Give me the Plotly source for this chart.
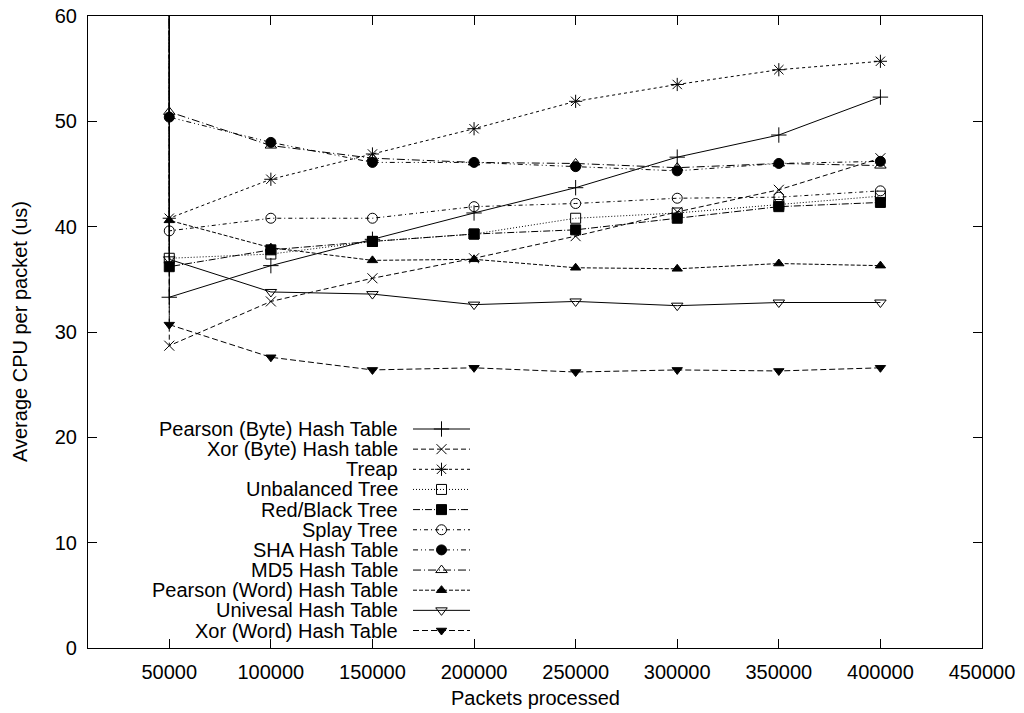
import plotly.graph_objects as go

# ---------------- data ----------------
packets = [50000, 100000, 150000, 200000, 250000, 300000, 350000, 400000]

series_names = [
    "Pearson (Byte) Hash Table",
    "Xor (Byte) Hash table",
    "Treap",
    "Unbalanced Tree",
    "Red/Black Tree",
    "Splay Tree",
    "SHA Hash Table",
    "MD5 Hash Table",
    "Pearson (Word) Hash Table",
    "Univesal Hash Table",
    "Xor (Word) Hash Table",
]

pearson_byte = [33.3, 36.3, 38.8, 41.3, 43.7, 46.6, 48.7, 52.3]
xor_byte = [28.7, 32.9, 35.1, 37.0, 39.1, 41.4, 43.5, 46.5]
treap = [40.8, 44.5, 46.9, 49.3, 51.9, 53.5, 54.9, 55.7]
unbalanced_tree = [37.0, 37.4, 38.6, 39.3, 40.8, 41.3, 42.1, 42.9]
red_black_tree = [36.2, 37.8, 38.6, 39.3, 39.7, 40.8, 41.9, 42.3]
splay_tree = [39.6, 40.8, 40.8, 41.9, 42.2, 42.7, 42.8, 43.4]
sha_hash = [50.4, 48.0, 46.1, 46.1, 45.7, 45.3, 46.0, 46.2]
md5_hash = [50.9, 47.7, 46.5, 46.1, 46.0, 45.6, 46.0, 45.8]
pearson_word = [40.6, 38.0, 36.8, 36.9, 36.1, 36.0, 36.5, 36.3]
universal_hash = [36.9, 33.8, 33.6, 32.6, 32.9, 32.5, 32.8, 32.8]
xor_word = [30.7, 27.6, 26.4, 26.6, 26.2, 26.4, 26.3, 26.6]

# first (warm-up) sample at 50000 packets is off the top of the scale for every series
warmup_value = [70, 70, 70, 70, 70, 70, 70, 70, 70, 70, 70]

series_values = [pearson_byte, xor_byte, treap, unbalanced_tree, red_black_tree,
                 splay_tree, sha_hash, md5_hash, pearson_word, universal_hash, xor_word]

x_tick_values = [50000, 100000, 150000, 200000, 250000, 300000, 350000, 400000, 450000]
x_tick_labels = ["50000", "100000", "150000", "200000", "250000", "300000", "350000", "400000", "450000"]
y_tick_values = [0, 10, 20, 30, 40, 50, 60]

# ---------------- styles ----------------
styles = [
    dict(dash="solid", symbol="cross-thin-open", size=11),
    dict(dash="5px,3px", symbol="x-thin-open", size=10),
    dict(dash="3px,3px", symbol="asterisk-open", size=11),
    dict(dash="1px,2px", symbol="square-open", size=10),
    dict(dash="7px,2px,1px,2px", symbol="square", size=10),
    dict(dash="4px,3px,1px,3px", symbol="circle-open", size=10),
    dict(dash="5px,3px,1px,3px,1px,3px", symbol="circle", size=10),
    dict(dash="8px,3px,1px,3px", symbol="triangle-up-open", size=10),
    dict(dash="4px,2px", symbol="triangle-up", size=9),
    dict(dash="solid", symbol="triangle-down-open", size=10),
    dict(dash="6px,3px", symbol="triangle-down", size=9),
]

FONT = "Liberation Sans, Arial, Helvetica, sans-serif"
W, H = 1024, 713
PL, PR, PT, PB = 88, 982, 16, 648  # plot box in pixels


def px_to_paper_x(px):
    return (px - PL) / (PR - PL)


def px_to_paper_y(py):
    return (PB - py) / (PB - PT)


fig = go.Figure()

for name, vals, st, wv in zip(series_names, series_values, styles, warmup_value):
    fig.add_trace(go.Scatter(
        x=[packets[0]] + packets,
        y=[wv] + vals,
        mode="lines+markers",
        name=name,
        showlegend=False,
        line=dict(color="black", width=1, dash=st["dash"]),
        marker=dict(symbol=st["symbol"], size=st["size"], color="black",
                    line=dict(color="black", width=1)),
    ))

# ---------------- gnuplot-style key (text on the left, sample on the right) ----------------
key_top = 429
key_step = 20.15
key_text_right = 400
key_line_x0, key_line_x1 = 413, 470
annotations = []
for i, (name, st) in enumerate(zip(series_names, styles)):
    ry = key_top + i * key_step
    annotations.append(dict(
        x=px_to_paper_x(key_text_right), y=px_to_paper_y(ry),
        xref="paper", yref="paper", xanchor="right", yanchor="middle",
        text=name, showarrow=False, font=dict(family=FONT, size=20, color="black"),
    ))
    fig.add_trace(go.Scatter(
        x=[key_line_x0, key_line_x1], y=[ry, ry], xaxis="x2", yaxis="y2",
        mode="lines", showlegend=False, hoverinfo="skip",
        line=dict(color="black", width=1, dash=st["dash"]),
    ))
    fig.add_trace(go.Scatter(
        x=[(key_line_x0 + key_line_x1) / 2], y=[ry], xaxis="x2", yaxis="y2",
        mode="markers", showlegend=False, hoverinfo="skip",
        marker=dict(symbol=st["symbol"], size=st["size"], color="black",
                    line=dict(color="black", width=1)),
    ))

annotations.append(dict(
    x=px_to_paper_x(535), y=px_to_paper_y(698), xref="paper", yref="paper",
    xanchor="center", yanchor="middle", text="Packets processed", showarrow=False,
    font=dict(family=FONT, size=20, color="black"),
))
annotations.append(dict(
    x=px_to_paper_x(20), y=px_to_paper_y(332), xref="paper", yref="paper",
    xanchor="center", yanchor="middle", text="Average CPU per packet (us)", showarrow=False,
    textangle=-90, font=dict(family=FONT, size=20, color="black"),
))

axis_common = dict(
    showline=True, linecolor="black", linewidth=1.2, mirror="ticks",
    ticks="inside", ticklen=9, tickwidth=1, tickcolor="black",
    showgrid=False, zeroline=False, automargin=False,
    tickfont=dict(family=FONT, size=20, color="black"),
)

fig.update_layout(
    width=W, height=H,
    margin=dict(l=PL, r=W - PR, t=PT, b=H - PB, pad=0, autoexpand=False),
    paper_bgcolor="white", plot_bgcolor="white",
    font=dict(family=FONT, size=20, color="black"),
    xaxis=dict(range=[10000, 450000], tickmode="array", tickvals=x_tick_values,
               ticktext=x_tick_labels, ticklabelstandoff=6, **axis_common),
    yaxis=dict(range=[0, 60], tickmode="array", tickvals=y_tick_values,
               ticklabelstandoff=6, **axis_common),
    xaxis2=dict(overlaying="x", anchor="y2", range=[PL, PR], visible=False,
                fixedrange=True, automargin=False),
    yaxis2=dict(overlaying="y", anchor="x2", range=[PB, PT], visible=False,
                fixedrange=True, automargin=False),
    annotations=annotations,
    showlegend=False,
)

fig.write_html("out.html", config={"displayModeBar": False},
               post_script="document.body.style.margin='0px';")
